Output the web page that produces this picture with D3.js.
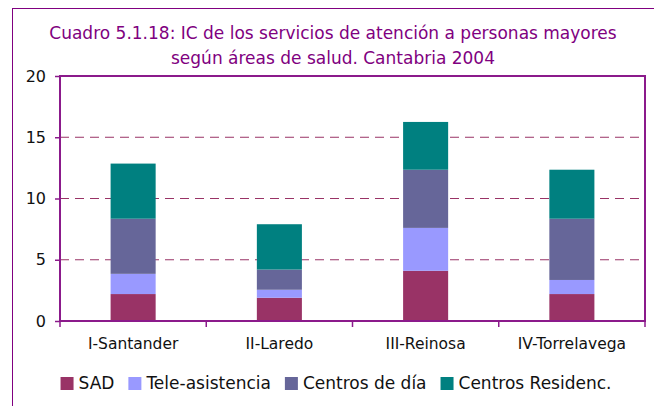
<!DOCTYPE html>
<html>
<head>
<meta charset="utf-8">
<script src="https://cdn.jsdelivr.net/npm/d3@7"></script>
<style>
  body { margin: 0; background: #fff; }
  text { font-family: "DejaVu Sans", sans-serif; }
</style>
</head>
<body>
<div id="chart"></div>
<script>
var areas = ['I-Santander', 'II-Laredo', 'III-Reinosa', 'IV-Torrelavega'];
var series = ['SAD', 'Tele-asistencia', 'Centros de día', 'Centros Residenc.'];
var sad = [2.2, 1.9, 4.1, 2.2];
var tele = [1.65, 0.65, 3.5, 1.15];
var dia = [4.5, 1.65, 4.75, 5.0];
var resid = [4.5, 3.7, 3.9, 4.0];
var colors = ['#993366', '#9999ff', '#666699', '#008080'];
var yTicks = [0, 5, 10, 15, 20];

var width = 654, height = 406;
var svg = d3.select('#chart').append('svg').attr('width', width).attr('height', height);

// outer frame
svg.append('rect').attr('x', 12.5).attr('y', 8.5).attr('width', 700).attr('height', 500)
    .attr('fill', 'none').attr('stroke', '#800080').attr('stroke-width', 1);

// title
var title = svg.append('text').attr('text-anchor', 'middle').attr('fill', '#800080').style('font-size', '17px');
title.append('tspan').attr('x', 333).attr('y', 39).text('Cuadro 5.1.18: IC de los servicios de atención a personas mayores');
title.append('tspan').attr('x', 333).attr('y', 64).text('según áreas de salud. Cantabria 2004');

var x = d3.scaleBand().domain(areas).range([60, 645]).paddingInner(0.692).paddingOuter(0.346);
var y = d3.scaleLinear().domain([0, 20]).range([321, 76]);

var table = areas.map((a, i) => ({area: a, s0: sad[i], s1: tele[i], s2: dia[i], s3: resid[i]}));
var stacked = d3.stack().keys(['s0', 's1', 's2', 's3'])(table);

// grid lines
svg.append('g').selectAll('line').data(yTicks.filter(t => t > 0 && t < 20)).enter().append('line')
    .attr('x1', 60).attr('x2', 645).attr('y1', d => y(d)).attr('y2', d => y(d))
    .attr('stroke', '#993366').attr('stroke-dasharray', '9,6');

// bars
svg.append('g').selectAll('g').data(stacked).enter().append('g')
    .attr('fill', (d, i) => colors[i])
    .selectAll('rect').data(d => d).enter().append('rect')
    .attr('x', d => x(d.data.area)).attr('width', x.bandwidth())
    .attr('y', d => y(d[1])).attr('height', d => y(d[0]) - y(d[1]));

// plot border
svg.append('rect').attr('x', 60).attr('y', 76).attr('width', 585).attr('height', 245)
    .attr('fill', 'none').attr('stroke', '#8b1a8b').attr('stroke-width', 2);

// y axis
var yAxis = svg.append('g').attr('transform', 'translate(60,0)')
    .call(d3.axisLeft(y).tickValues(yTicks).tickSize(5).tickPadding(9));
yAxis.select('.domain').remove();
yAxis.selectAll('line').attr('stroke', '#8b1a8b').attr('stroke-width', 1.5);
yAxis.selectAll('text').style('font-size', '16px').attr('fill', '#111').attr('font-family', '"DejaVu Sans", sans-serif');

// x axis: ticks at category boundaries
var step = x.step();
svg.append('g').selectAll('line').data(d3.range(areas.length + 1)).enter().append('line')
    .attr('x1', i => 60 + i * step).attr('x2', i => 60 + i * step)
    .attr('y1', 321).attr('y2', 327).attr('stroke', '#8b1a8b').attr('stroke-width', 1.5);
svg.append('g').selectAll('text').data(areas).enter().append('text')
    .attr('x', d => x(d) + x.bandwidth() / 2).attr('y', 349).attr('text-anchor', 'middle')
    .attr('fill', '#111').style('font-size', '15.5px').text(d => d);

// legend
var legend = svg.append('g');
var lx = 0;
series.forEach((s, i) => {
    var g = legend.append('g').attr('transform', `translate(${lx},0)`);
    g.append('rect').attr('x', 0).attr('y', 377).attr('width', 13).attr('height', 13).attr('fill', colors[i]);
    var t = g.append('text').attr('x', 18).attr('y', 389).attr('fill', '#111').style('font-size', '17px').text(s);
    lx += 18 + t.node().getComputedTextLength() + 14;
});
lx -= 14;
legend.attr('transform', `translate(${336 - lx / 2},0)`);
</script>
</body>
</html>
